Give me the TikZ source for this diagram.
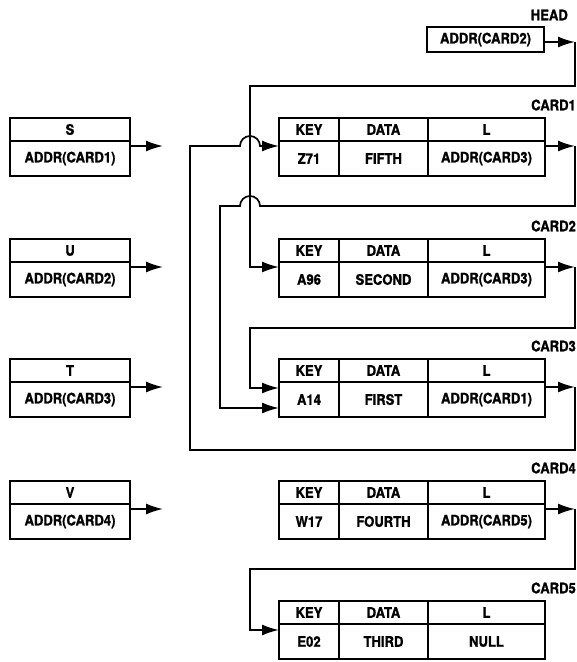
\documentclass[tikz,border=0pt]{standalone}
\usepackage{fontspec}
\setmainfont{TeX Gyre Heros}[FakeStretch=0.9,BoldFeatures={FakeBold=1.2}]
\usepackage{tikz}
\usetikzlibrary{positioning,arrows.meta}

\begin{document}
\begin{tikzpicture}[
  x=1pt, y=1pt,
  cell/.style={
    draw,
    line width=1.8pt,
    inner sep=0pt,
    outer sep=0pt,
    anchor=north west,
    font=\fontsize{14.5}{16}\selectfont\bfseries
  },
  hcell/.style={cell, minimum height=23pt},
  vcell/.style={cell, minimum height=35pt},
  keycol/.style={minimum width=60pt},
  datacol/.style={minimum width=89pt},
  lcol/.style={minimum width=117pt},
  leftcol/.style={minimum width=120pt},
  lbl/.style={anchor=east, inner sep=0pt, font=\fontsize{14.5}{16}\selectfont\bfseries},
  ptr/.style={-{Latex[length=17pt,width=11pt]}, line width=1.7pt}
]
  \useasboundingbox (0,0) rectangle (577,-662);

  % pointer variables
  \node[hcell,leftcol] (s) at (10,-118) {S};
  \node[vcell,leftcol,below=0pt of s] (sv) {ADDR(CARD1)};
  \node[hcell,leftcol] (u) at (10,-239) {U};
  \node[vcell,leftcol,below=0pt of u] (uv) {ADDR(CARD2)};
  \node[hcell,leftcol] (t) at (10,-359) {T};
  \node[vcell,leftcol,below=0pt of t] (tv) {ADDR(CARD3)};
  \node[hcell,leftcol] (v) at (10,-481) {V};
  \node[vcell,leftcol,below=0pt of v] (vv) {ADDR(CARD4)};

  % head
  \node[lbl] (headlbl) at (568,-15) {HEAD};
  \node[cell, minimum width=117pt, minimum height=25pt] (head) at (427,-27) {ADDR(CARD2)};

  % card 1
  \node[lbl] (c1lbl) at (576,-105) {CARD1};
  \node[hcell,keycol] (k1) at (279,-118) {KEY};
  \node[hcell,datacol,right=0pt of k1] (d1) {DATA};
  \node[hcell,lcol,right=0pt of d1] (l1) {L};
  \node[vcell,keycol,below=0pt of k1] (k1v) {Z71};
  \node[vcell,datacol,below=0pt of d1] (d1v) {FIFTH};
  \node[vcell,lcol,below=0pt of l1] (l1v) {ADDR(CARD3)};

  % card 2
  \node[lbl] (c2lbl) at (576,-226) {CARD2};
  \node[hcell,keycol] (k2) at (279,-239) {KEY};
  \node[hcell,datacol,right=0pt of k2] (d2) {DATA};
  \node[hcell,lcol,right=0pt of d2] (l2) {L};
  \node[vcell,keycol,below=0pt of k2] (k2v) {A96};
  \node[vcell,datacol,below=0pt of d2] (d2v) {SECOND};
  \node[vcell,lcol,below=0pt of l2] (l2v) {ADDR(CARD3)};

  % card 3
  \node[lbl] (c3lbl) at (576,-346) {CARD3};
  \node[hcell,keycol] (k3) at (279,-359) {KEY};
  \node[hcell,datacol,right=0pt of k3] (d3) {DATA};
  \node[hcell,lcol,right=0pt of d3] (l3) {L};
  \node[vcell,keycol,below=0pt of k3] (k3v) {A14};
  \node[vcell,datacol,below=0pt of d3] (d3v) {FIRST};
  \node[vcell,lcol,below=0pt of l3] (l3v) {ADDR(CARD1)};

  % card 4
  \node[lbl] (c4lbl) at (576,-468) {CARD4};
  \node[hcell,keycol] (k4) at (279,-481) {KEY};
  \node[hcell,datacol,right=0pt of k4] (d4) {DATA};
  \node[hcell,lcol,right=0pt of d4] (l4) {L};
  \node[vcell,keycol,below=0pt of k4] (k4v) {W17};
  \node[vcell,datacol,below=0pt of d4] (d4v) {FOURTH};
  \node[vcell,lcol,below=0pt of l4] (l4v) {ADDR(CARD5)};

  % card 5
  \node[lbl] (c5lbl) at (576,-588) {CARD5};
  \node[hcell,keycol] (k5) at (279,-601) {KEY};
  \node[hcell,datacol,right=0pt of k5] (d5) {DATA};
  \node[hcell,lcol,right=0pt of d5] (l5) {L};
  \node[vcell,keycol,below=0pt of k5] (k5v) {E02};
  \node[vcell,datacol,below=0pt of d5] (d5v) {THIRD};
  \node[vcell,lcol,below=0pt of l5] (l5v) {NULL};

  % arrow ends
  \coordinate (sp) at (163,-146);
  \coordinate (up) at (163,-267);
  \coordinate (tp) at (163,-387);
  \coordinate (vp) at (163,-509);
  \coordinate (hc) at (575,-42);
  \coordinate (o1) at (575,-146);
  \coordinate (o2) at (575,-267);
  \coordinate (o3) at (575,-387);
  \coordinate (o4) at (575,-509);
  \coordinate (in2) at (250,-267);
  \coordinate (in3a) at (250,-388);
  \coordinate (in3b) at (220,-408);
  \coordinate (in5) at (250,-630);

  \draw[ptr] (sv.east |- sp) -- (sp);
  \draw[ptr] (uv.east |- up) -- (up);
  \draw[ptr] (tv.east |- tp) -- (tp);
  \draw[ptr] (vv.east |- vp) -- (vp);

  \draw[ptr] (head.east |- hc) -- (hc);
  \draw[ptr] (hc) -- ++(0,-44) -| (in2) -- (k2v.west |- in2);

  \draw[ptr] (l1v.east |- o1) -- (o1);
  \draw[ptr] (o1) -- ++(0,-60) -- (260,-206) arc[start angle=0, end angle=180, radius=10pt] -| (in3b) -- (k3v.west |- in3b);

  \draw[ptr] (l2v.east |- o2) -- (o2);
  \draw[ptr] (o2) -- ++(0,-61) -| (in3a) -- (k3v.west |- in3a);

  \draw[ptr] (l3v.east |- o3) -- (o3);
  \draw[ptr] (o3) -- ++(0,-63) -| (190,-146) -- (240,-146) arc[start angle=180, end angle=0, radius=10pt] -- (k1v.west |- o1);

  \draw[ptr] (l4v.east |- o4) -- (o4);
  \draw[ptr] (o4) -- ++(0,-60) -| (in5) -- (k5v.west |- in5);
\end{tikzpicture}
\end{document}
